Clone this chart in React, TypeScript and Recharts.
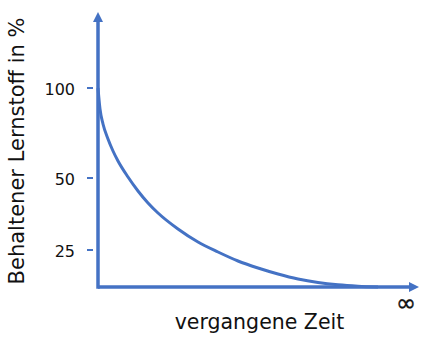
import React from 'react';
import { LineChart, Line, XAxis, YAxis } from 'recharts';

const BLUE = '#4472C4';

// curve: elapsed time (x) vs retained learning (y), in chart units
const timeValues = [0, 2, 5, 10, 15, 20, 30, 40, 50, 60, 80, 100, 120, 140, 160, 180, 200, 220, 240, 260, 280];
const retainedValues = [199, 178, 163, 148, 136, 126, 110, 96, 84, 74, 58, 45, 35, 26, 19, 13, 8, 4.5, 2.2, 0.8, 0];

// y tick positions and their labels
const yTickValues = [37, 109, 199];
const yTickLabels = ['25', '50', '100'];

const xTickValues = [308];
const xTickLabels = ['∞'];

const xDomain = [0, 311];
const yDomain = [0, 265];

const data = timeValues.map((t, i) => ({ t, r: retainedValues[i] }));

const FONT = 'DejaVu Sans';

const YTick = (props: any) => {
  const { x, y, payload } = props;
  const idx = yTickValues.indexOf(payload.value);
  return (
    <g>
      <line x1={x - 11} x2={x - 5} y1={y} y2={y} stroke={BLUE} strokeWidth={2} />
      <text x={x - 23} y={y + 1} textAnchor="end" dominantBaseline="central" fontFamily={FONT} fontSize={16} fill="#111">
        {yTickLabels[idx]}
      </text>
    </g>
  );
};

const XTick = (props: any) => {
  const { x, y, payload } = props;
  const idx = xTickValues.indexOf(payload.value);
  return (
    <text x={x} y={y + 16} textAnchor="middle" dominantBaseline="central" fontFamily={FONT} fontSize={24} fill="#111" stroke="#111" strokeWidth={0.4}>
      {xTickLabels[idx]}
    </text>
  );
};

const YLabel = (props: any) => {
  const vb = props.viewBox;
  const cx = vb.x + 17;
  const cy = vb.y + vb.height / 2 - 3.5;
  return (
    <text x={cx} y={cy} transform={`rotate(-90 ${cx} ${cy})`} textAnchor="middle" dominantBaseline="central" fontFamily={FONT} fontSize={21} fill="#111">
      Behaltener Lernstoff in %
    </text>
  );
};

const XLabel = (props: any) => {
  const vb = props.viewBox;
  return (
    <text x={vb.x + vb.width / 2 + 6} y={vb.y + 42} textAnchor="middle" fontFamily={FONT} fontSize={20.5} fill="#111">
      vergangene Zeit
    </text>
  );
};

export default function App() {
  return (
    <div style={{ position: 'absolute', left: 0, top: 0, width: 429, height: 337, background: '#fff' }}>
      <LineChart width={429} height={337} data={data} margin={{ top: 22, right: 20, left: 0, bottom: 0 }}>
        <defs>
          <marker id="arrowHead" markerUnits="userSpaceOnUse" markerWidth={10} markerHeight={10} refX={0} refY={5} orient="auto-start-reverse">
            <path d="M0,0 L10,5 L0,10 Z" fill={BLUE} />
          </marker>
        </defs>
        <XAxis
          dataKey="t"
          type="number"
          domain={xDomain}
          ticks={xTickValues}
          tick={<XTick />}
          tickLine={false}
          tickSize={0}
          tickMargin={0}
          height={50}
          axisLine={{ stroke: BLUE, strokeWidth: 3.5, markerEnd: 'url(#arrowHead)' }}
          label={<XLabel />}
        />
        <YAxis
          type="number"
          domain={yDomain}
          ticks={yTickValues}
          tick={<YTick />}
          tickLine={false}
          tickSize={0}
          tickMargin={0}
          width={98}
          axisLine={{ stroke: BLUE, strokeWidth: 3.5, strokeLinecap: 'square', markerStart: 'url(#arrowHead)' }}
          label={<YLabel />}
        />
        <Line
          dataKey="r"
          type="monotone"
          stroke={BLUE}
          strokeWidth={3}
          dot={false}
          isAnimationActive={false}
        />
      </LineChart>
    </div>
  );
}
